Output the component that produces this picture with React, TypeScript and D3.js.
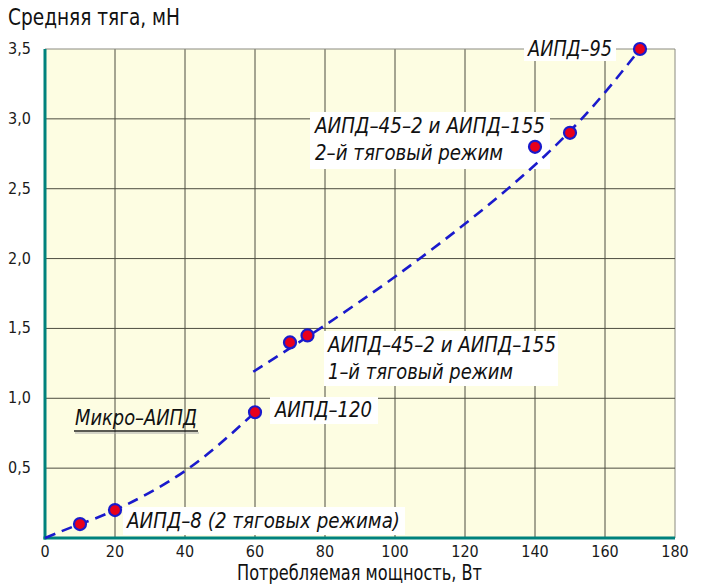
import React from "react";
import * as d3 from "d3";

// Measured devices: power (W) vs mean thrust (mN)
const powerW = [10, 20, 60, 70, 75, 140, 150, 170];
const thrustMN = [0.1, 0.2, 0.9, 1.4, 1.45, 2.8, 2.9, 3.5];

// Trend lines (two branches)
const trendLowX = [0, 10, 20, 40, 60];
const trendLowY = [0, 0.1, 0.2, 0.48, 0.9];
const trendHighX = [59.5, 100, 143, 170];
const trendHighY = [1.19, 1.87, 2.74, 3.5];

const xTicks = [0, 20, 40, 60, 80, 100, 120, 140, 160, 180];
const yTicks = [0.5, 1.0, 1.5, 2.0, 2.5, 3.0, 3.5];

const W = 701;
const H = 587;
const left = 45;
const right = 675;
const top = 49;
const bottom = 538;

const ANN_FONT = "'DejaVu Sans', 'Liberation Sans', sans-serif";
const AX_FONT = "'DejaVu Sans Condensed', 'Liberation Sans Narrow', 'DejaVu Sans', sans-serif";

type Ann = { lines: string[]; x: number; y: number; lens: number[]; box: [number, number, number, number] | null };

export default function App() {
  const x = d3.scaleLinear().domain([0, 180]).range([left, right]);
  const y = d3.scaleLinear().domain([0, 3.5]).range([bottom, top]);

  const line = d3
    .line<[number, number]>()
    .x((d) => x(d[0]))
    .y((d) => y(d[1]))
    .curve(d3.curveNatural);

  const low = line(trendLowX.map((v, i) => [v, trendLowY[i]] as [number, number]));
  const high = line(trendHighX.map((v, i) => [v, trendHighY[i]] as [number, number]));

  const fmt = (v: number) => v.toFixed(1).replace(".", ",");

  const anns: Ann[] = [
    { lines: ["АИПД–95"], x: 528, y: 56, lens: [84], box: [524, 36, 92, 25] },
    {
      lines: ["АИПД–45–2 и АИПД–155", "2–й тяговый режим"],
      x: 315,
      y: 133,
      lens: [230, 188],
      box: [310, 112, 240, 57],
    },
    {
      lines: ["АИПД–45–2 и АИПД–155", "1–й тяговый режим"],
      x: 328,
      y: 352,
      lens: [228, 185],
      box: [324, 331, 234, 55],
    },
    { lines: ["АИПД–120"], x: 275, y: 417, lens: [97], box: [270, 397, 108, 27] },
    { lines: ["АИПД–8 (2 тяговых режима)"], x: 127, y: 528, lens: [273], box: [123, 507, 282, 28] },
  ];

  return (
    <svg width={W} height={H} style={{ display: "block", position: "absolute", left: 0, top: 0 }}>
      <rect x={0} y={0} width={W} height={H} fill="#ffffff" />
      {/* plot background */}
      <rect x={left} y={top} width={right - left} height={bottom - top} fill="#fdfde2" />

      {/* grid */}
      {xTicks.slice(1).map((t) => (
        <line key={"gx" + t} x1={x(t)} x2={x(t)} y1={top} y2={bottom} stroke={t === 180 ? "#8a8a80" : "#4d4d40"} strokeWidth={1} />
      ))}
      {yTicks.map((t) => (
        <line key={"gy" + t} x1={left} x2={right} y1={y(t)} y2={y(t)} stroke={t === 3.5 ? "#8a8a80" : "#4d4d40"} strokeWidth={1} />
      ))}

      {/* axes */}
      <line x1={left} x2={left} y1={top} y2={bottom + 1.5} stroke="#00827c" strokeWidth={3} />
      <line x1={left - 1.5} x2={right} y1={bottom} y2={bottom} stroke="#00827c" strokeWidth={3} />

      {/* tick labels */}
      {xTicks.map((t) => (
        <text key={"tx" + t} x={x(t)} y={557} textAnchor="middle" fontFamily={AX_FONT} fontSize={16} fill="#1a1a1a">
          {t}
        </text>
      ))}
      {yTicks.map((t) => (
        <text key={"ty" + t} x={31} y={y(t) + 5} textAnchor="end" fontFamily={AX_FONT} fontSize={16} fill="#1a1a1a">
          {fmt(t)}
        </text>
      ))}

      {/* axis titles */}
      <text x={8} y={25} fontFamily={AX_FONT} fontSize={23} fill="#111" textLength={172} lengthAdjust="spacingAndGlyphs">
        Средняя тяга, мН
      </text>
      <text x={237} y={580} fontFamily={AX_FONT} fontSize={22} fill="#111" textLength={245} lengthAdjust="spacingAndGlyphs">
        Потребляемая мощность, Вт
      </text>

      {/* annotation backgrounds */}
      {anns.map((a, i) =>
        a.box ? <rect key={"b" + i} x={a.box[0]} y={a.box[1]} width={a.box[2]} height={a.box[3]} fill="#ffffff" /> : null
      )}

      {/* trend lines */}
      <path d={low ?? ""} fill="none" stroke="#1a1acc" strokeWidth={2.6} strokeDasharray="11 7" />
      <path d={high ?? ""} fill="none" stroke="#1a1acc" strokeWidth={2.6} strokeDasharray="11 7" />

      {/* data points */}
      {powerW.map((p, i) => (
        <circle key={"pt" + i} cx={x(p)} cy={y(thrustMN[i])} r={6} fill="#e8001c" stroke="#1a1acc" strokeWidth={2.2} />
      ))}

      {/* annotations */}
      {anns.map((a, i) =>
        a.lines.map((s, j) => (
          <text
            key={"a" + i + "-" + j}
            x={a.x}
            y={a.y + j * 27}
            fontFamily={ANN_FONT}
            fontStyle="italic"
            fontSize={21}
            fill="#111"
            textLength={a.lens[j]}
            lengthAdjust="spacingAndGlyphs"
          >
            {s}
          </text>
        ))
      )}

      {/* group label */}
      <text
        x={75}
        y={425}
        fontFamily={ANN_FONT}
        fontStyle="italic"
        fontSize={21}
        fill="#111"
        textLength={122}
        lengthAdjust="spacingAndGlyphs"
      >
        Микро–АИПД
      </text>
      <line x1={74} x2={198} y1={431} y2={431} stroke="#222" strokeWidth={1.3} />
      <line x1={75} x2={199} y1={433} y2={433} stroke="#aaa" strokeWidth={1.2} />
    </svg>
  );
}
